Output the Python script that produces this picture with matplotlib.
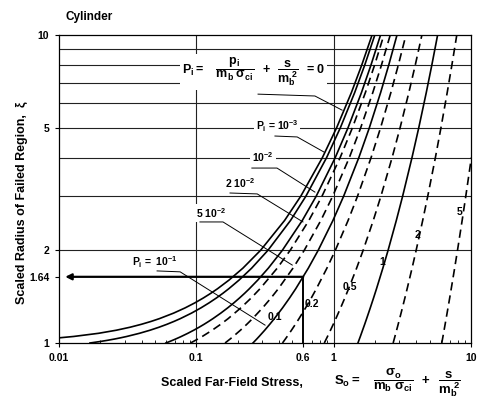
import numpy as np
import matplotlib
matplotlib.use("Agg")
import matplotlib.pyplot as plt
from matplotlib.ticker import FixedLocator, NullLocator, NullFormatter

plt.rcParams['font.family'] = ['Liberation Sans', 'DejaVu Sans']
plt.rcParams['font.weight'] = 'bold'
plt.rcParams['mathtext.fontset'] = 'custom'
plt.rcParams['mathtext.rm'] = 'Liberation Sans:bold'
plt.rcParams['mathtext.it'] = 'Liberation Sans:bold'
plt.rcParams['mathtext.bf'] = 'Liberation Sans:bold'
plt.rcParams['mathtext.sf'] = 'Liberation Sans:bold'

# ---- data: scaled radius xi vs scaled far-field stress S_o ----
# leftmost curves (read more densely because they bend near the bottom)
xi_dense = [1.00, 1.01, 1.02, 1.03, 1.04, 1.05, 1.075, 1.10, 1.125, 1.15, 1.175, 1.20,
            1.25, 1.30, 1.35, 1.40, 1.45, 1.50, 1.60, 1.75, 2.00, 2.50, 3.00, 4.00,
            5.00, 6.50, 8.00, 10.0]
S_p0 = [np.nan, np.nan, np.nan, 0.00761, 0.01019, 0.0128, 0.01939, 0.0261, 0.03291, 0.0398,
        0.04682, 0.0539, 0.06823, 0.0828, 0.09754, 0.1124, 0.1274, 0.1425, 0.1727, 0.2182,
        0.2934, 0.4390, 0.5764, 0.8270, 1.0499, 1.3439, 1.6009, 1.9011]
S_p1e3 = [0.01681, 0.01964, 0.02249, 0.02536, 0.02824, 0.03115, 0.03849, 0.04593, 0.05345,
          0.06106, 0.06873, 0.07647, 0.09210, 0.1079, 0.1238, 0.1399, 0.1560, 0.1721, 0.2044,
          0.2527, 0.3321, 0.4848, 0.6280, 0.8877, 1.1176, 1.4199, 1.6834, 1.9907]
S_p1e2 = [0.0600, 0.06351, 0.06703, 0.07056, 0.07411, 0.07768, 0.08662, 0.09563, 0.1047,
          0.1138, 0.1229, 0.1321, 0.1505, 0.1690, 0.1876, 0.2061, 0.2246, 0.2430, 0.2797,
          0.3342, 0.4227, 0.5906, 0.7463, 1.0257, 1.2709, 1.5910, 1.8688, 2.1914]

# remaining curves
xi_levels = [1.00, 1.03, 1.05, 1.10, 1.15, 1.20, 1.30, 1.40, 1.50, 1.75,
             2.00, 2.50, 3.00, 4.00, 5.00, 6.50, 8.00, 10.0]
S_p2e2 = [0.09071, 0.1025, 0.1104, 0.1303, 0.1503, 0.1704, 0.2106, 0.2507, 0.2905, 0.3881,
          0.4821, 0.6593, 0.8225, 1.1138, 1.3683, 1.6993, 1.9857, 2.3175]
S_p5e2 = [0.1618, 0.1760, 0.1855, 0.2092, 0.2329, 0.2565, 0.3033, 0.3495, 0.3949, 0.5051,
          0.6102, 0.8057, 0.9839, 1.2988, 1.5716, 1.9242, 2.2277, 2.5778]
S_p1e1 = [0.2581, 0.2751, 0.2863, 0.3144, 0.3421, 0.3697, 0.4239, 0.4769, 0.5288, 0.6533,
          0.7707, 0.9869, 1.1819, 1.5235, 1.8170, 2.1939, 2.5166, 2.8874]
S_p2e1 = [0.4236, 0.4444, 0.4582, 0.4923, 0.5259, 0.5590, 0.6237, 0.6865, 0.7474, 0.8921,
          1.0270, 1.2724, 1.4913, 1.8706, 2.1933, 2.6046, 2.9544, 3.3545]
S_p5e1 = [0.8536, 0.8821, 0.9009, 0.9471, 0.9922, 1.0364, 1.1219, 1.2039, 1.2827, 1.4675,
          1.6371, 1.9405, 2.2068, 2.6608, 3.0415, 3.5210, 3.9248, 4.3828]
S_p1 = [1.500, 1.537, 1.562, 1.621, 1.680, 1.736, 1.845, 1.949, 2.048, 2.278,
        2.487, 2.855, 3.175, 3.713, 4.159, 4.716, 5.180, 5.704]
S_p2 = [2.707, 2.757, 2.789, 2.868, 2.945, 3.019, 3.161, 3.295, 3.423, 3.717,
        3.981, 4.442, 4.837, 5.495, 6.033, 6.698, 7.249, 7.865]
S_p5 = [6.118, 6.192, 6.240, 6.357, 6.470, 6.580, 6.787, 6.983, 7.167, 7.588,
        7.961, 8.606, 9.151, 10.045]

solid_curves = [(S_p0, xi_dense), (S_p1e3, xi_dense), (S_p1e2, xi_dense),
                (S_p1e1, xi_levels), (S_p1, xi_levels)]
dashed_curves = [S_p2e2, S_p5e2, S_p2e1, S_p5e1, S_p2, S_p5]

xticks = [0.01, 0.1, 0.6, 1, 10]
xtick_labels = ['0.01', '0.1', '0.6', '1', '10']
yticks = [1, 1.64, 2, 5, 10]
ytick_labels = ['1', '1.64', '2', '5', '10']
hgrid = [2, 3, 4, 5, 6, 7, 8, 9]
vgrid = [0.1, 1]
example_S = 0.6
example_xi = 1.64

fig = plt.figure(figsize=(4.82, 4.09), dpi=100)
ax = fig.add_axes([0.1224, 0.1614, 0.855, 0.753])
ax.set_xscale('log')
ax.set_yscale('log')
ax.set_xlim(0.01, 10)
ax.set_ylim(1, 10)

for g in hgrid:
    ax.axhline(g, color='#222222', lw=0.8, zorder=1)
for g in vgrid:
    ax.axvline(g, color='#222222', lw=0.8, zorder=1)

for S, xi in solid_curves:
    ax.plot(S, xi[:len(S)], color='k', lw=1.2, zorder=3)
for S in dashed_curves:
    ax.plot(S, xi_levels[:len(S)], color='k', lw=1.2, dashes=(5, 3), zorder=3)

# worked example: S_o = 0.6 -> xi = 1.64
ax.plot([example_S, example_S], [1, example_xi], color='k', lw=1.4, zorder=4)
ax.annotate('', xy=(0.0111, example_xi), xytext=(example_S, example_xi),
            arrowprops=dict(arrowstyle='-|>', lw=1.6, color='k', mutation_scale=9,
                            shrinkA=0, shrinkB=0), zorder=4)

ax.xaxis.set_major_locator(FixedLocator(xticks))
ax.set_xticklabels(xtick_labels)
ax.xaxis.set_minor_locator(FixedLocator([0.02, 0.03, 0.04, 0.05, 0.06, 0.07, 0.08, 0.09,
                                         0.2, 0.3, 0.4, 0.5, 0.7, 0.8, 0.9,
                                         2, 3, 4, 5, 6, 7, 8, 9]))
ax.xaxis.set_minor_formatter(NullFormatter())
ax.yaxis.set_major_locator(FixedLocator(yticks))
ax.set_yticklabels(ytick_labels)
ax.yaxis.set_minor_locator(NullLocator())
ax.tick_params(axis='both', which='major', direction='out', length=3, width=0.8,
               labelsize=7.5, pad=4)
ax.tick_params(axis='x', which='minor', direction='in', length=2.5, width=0.6)
for lab in ax.get_xticklabels() + ax.get_yticklabels():
    lab.set_fontweight('bold')
for sp in ax.spines.values():
    sp.set_linewidth(0.9)

box = dict(facecolor='white', edgecolor='none', pad=1.5)

# equation label with leader
ax.text(0.471, 0.880,
        r'$P_i = \quad\dfrac{p_i}{m_b\;\sigma_{ci}}\;\; + \;\;\dfrac{s}{m_b^{\;2}}\;\; = 0$',
        transform=ax.transAxes, ha='center', va='center', fontsize=9, bbox=box, zorder=5)
ax.plot([0.483, 0.621, 0.687], [0.808, 0.802, 0.756], transform=ax.transAxes,
        color='k', lw=0.7, zorder=5)

labels = [
    (r'$P_i$ = 10$^{-3}$', (0.529, 0.705), [0.524, 0.578, 0.643], [0.672, 0.669, 0.620]),
    (r'10$^{-2}$', (0.495, 0.604), [0.468, 0.529, 0.621], [0.568, 0.568, 0.490]),
    (r'2 10$^{-2}$', (0.439, 0.519), [0.415, 0.481, 0.592], [0.487, 0.484, 0.393]),
    (r'5 10$^{-2}$', (0.369, 0.422), [0.342, 0.398, 0.566], [0.393, 0.393, 0.253]),
    (r'$P_i$ =  10$^{-1}$', (0.233, 0.263), [0.238, 0.294, 0.500], [0.234, 0.231, 0.058]),
]
for txt, (tx, ty), lx, ly in labels:
    ax.text(tx, ty, txt, transform=ax.transAxes, ha='center', va='center',
            fontsize=7.5, bbox=box, zorder=5)
    ax.plot(lx, ly, transform=ax.transAxes, color='k', lw=0.7, zorder=5)

curve_labels = [('0.1', 0.524, 0.084), ('0.2', 0.614, 0.127), ('0.5', 0.706, 0.182),
                ('1', 0.784, 0.263), ('2', 0.869, 0.351), ('5', 0.971, 0.425)]
for txt, tx, ty in curve_labels:
    ax.text(tx, ty, txt, transform=ax.transAxes, ha='center', va='center',
            fontsize=7.5, fontweight='bold', zorder=5)

fig.text(0.135, 0.958, 'Cylinder', fontsize=8.5, fontweight='bold', ha='left', va='center')
fig.text(0.046, 0.49, 'Scaled Radius of Failed Region,', rotation=90, fontsize=9,
         fontweight='bold', ha='center', va='center')
fig.text(0.046, 0.745, r'$\xi$', rotation=90, fontsize=9, ha='center', va='center')
fig.text(0.335, 0.063, 'Scaled Far-Field Stress,', fontsize=9, fontweight='bold',
         ha='left', va='center')
fig.text(0.693, 0.063,
         r'$S_o = \quad\dfrac{\sigma_o}{m_b\;\sigma_{ci}}\;\; + \;\;\dfrac{s}{m_b^{\;2}}$',
         fontsize=9.5, ha='left', va='center')

fig.savefig('out.png', dpi=100)
